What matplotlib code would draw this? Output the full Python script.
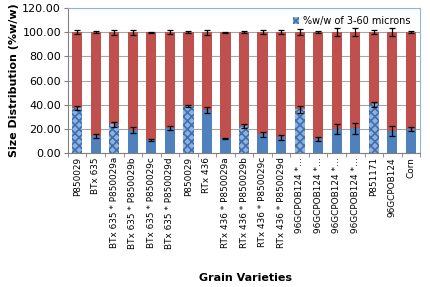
import matplotlib
matplotlib.use('Agg')
import matplotlib.pyplot as plt
import numpy as np

varieties = ["P850029", "BTx 635", "BTx 635 * P850029a", "BTx 635 * P850029b",
             "BTx 635 * P850029c", "BTx 635 * P850029d", "P850029", "RTx 436",
             "RTx 436 * P850029a", "RTx 436 * P850029b", "RTx 436 * P850029c",
             "RTx 436 * P850029d", "96GCPOB124 *\u2026", "96GCPOB124 *\u2026",
             "96GCPOB124 *\u2026", "96GCPOB124 *\u2026", "P851171", "96GCPOB124", "Corn"]
small = [37.2, 13.9, 23.6, 19.4, 10.8, 20.5, 38.9, 35.8, 12.2, 22.3,
         15.3, 13.1, 36.1, 11.7, 20.0, 20.5, 40.3, 18.1, 20.0]
small_err = [2.0, 1.5, 2.0, 2.5, 0.5, 1.5, 1.0, 2.5, 0.5, 1.5,
             2.0, 2.0, 3.0, 1.5, 4.0, 4.5, 2.0, 4.0, 1.5]
large_err = [1.5, 1.0, 2.0, 2.0, 0.5, 1.5, 1.0, 2.0, 0.5, 1.0,
             1.5, 1.5, 2.5, 1.0, 3.5, 3.5, 1.5, 3.5, 1.0]
# bars drawn with the speckled picture fill
textured = [True, False, True, False, False, False, True, False, False, True,
            False, False, True, False, False, False, True, False, False]

large = [100 - v for v in small]

plt.rcParams['font.family'] = ['DejaVu Sans']
plt.rcParams['hatch.linewidth'] = 1.2

fig = plt.figure(figsize=(4.3, 2.87), dpi=100)
ax = fig.add_axes([0.158, 0.467, 0.819, 0.505])

x = np.arange(len(varieties))
w = 0.55
blue = '#4F81BD'
red = '#C0504D'

bars = ax.bar(x, small, w, color=blue, label='%w/w of 3-60 microns', zorder=2)
for b, t in zip(bars, textured):
    if t:
        b.set_facecolor('#8fb1de')
        b.set_hatch('xxxx')
        b.set_edgecolor('#3f6fb0')
        b.set_linewidth(0)
ax.errorbar(x, small, yerr=small_err, fmt='none', ecolor='black', elinewidth=0.9,
            capsize=2.2, capthick=0.9, zorder=3)
ax.bar(x, large, w, bottom=small, color=red, zorder=2)
ax.errorbar(x, [100] * len(x), yerr=large_err, fmt='none', ecolor='black', elinewidth=0.9,
            capsize=2.2, capthick=0.9, zorder=3)

ax.set_ylim(0, 120)
ax.set_xlim(-0.5, len(x) - 0.5)
ax.set_yticks(np.arange(0, 121, 20))
ax.set_yticklabels(['%.2f' % v for v in np.arange(0, 121, 20)], fontsize=8)
ax.yaxis.grid(True, color='#a6a6a6', linewidth=0.8, zorder=0)
ax.set_axisbelow(True)

ax.set_xticks(x)
ax.set_xticklabels(varieties, rotation=90, fontsize=6.4)
ax.set_xticks(np.arange(-0.5, len(x), 1), minor=True)
ax.tick_params(axis='x', which='major', length=0, pad=3)
ax.tick_params(axis='x', which='minor', length=3, color='#808080')
ax.tick_params(axis='y', length=3, color='#808080', pad=2)

for s in ['left', 'bottom']:
    ax.spines[s].set_color('#808080')
for s in ['top', 'right']:
    ax.spines[s].set_color('#8eb4e3')

ax.set_ylabel('Size Distribution (%w/w)', fontsize=8, fontweight='bold', labelpad=2)
fig.text(0.57, 0.02, 'Grain Varieties', fontsize=8, fontweight='bold', ha='center')

ax.legend(loc='upper right', bbox_to_anchor=(0.99, 0.985), frameon=False, fontsize=7,
          handlelength=0.7, handleheight=0.7, handletextpad=0.4, borderaxespad=0.2)

fig.savefig('out.png', dpi=100)
